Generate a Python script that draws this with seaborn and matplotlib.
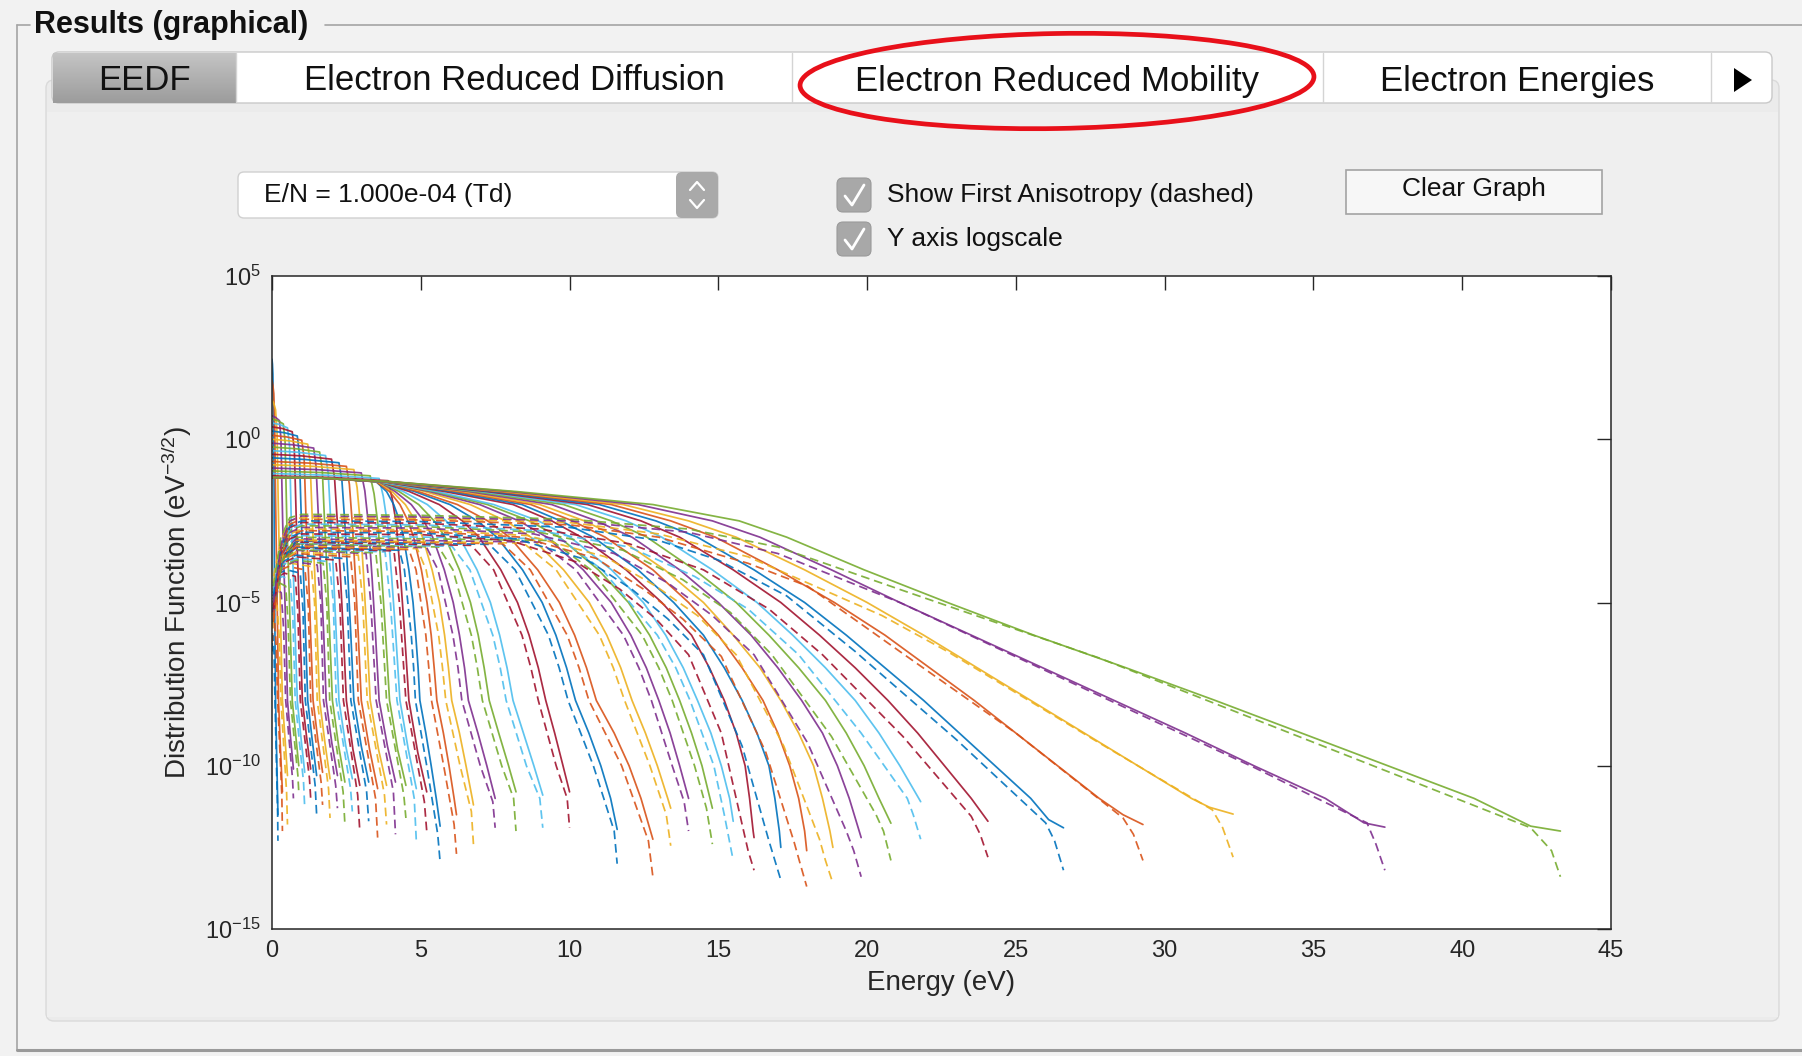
import numpy as np
import pandas as pd
import matplotlib
matplotlib.use("Agg")
import matplotlib.pyplot as plt
import seaborn as sns
from matplotlib.patches import FancyBboxPatch, Rectangle, Ellipse
from matplotlib.lines import Line2D
from matplotlib.ticker import FixedLocator, NullLocator, LogFormatterSciNotation

# ---------------- data ----------------
# EEDF curves, from highest E/N (longest tail) to lowest E/N.
# energies (eV) and log10 of the distribution function at read points
sol_E = [
 [0,1.5,4.0,8.2,12.8,15.7,17.3,19.9,22.7,25.6,28.7,31.7,34.6,37.5,40.4,42.3,43.3],
 [0,1.5,3.98,8.0,12.3,14.8,16.4,18.8,21.1,23.5,25.9,28.3,30.7,33.0,35.4,36.7,37.4],
 [0,1.5,3.96,7.8,11.8,14.0,15.6,17.9,20.0,21.9,23.7,25.5,27.3,29.1,30.9,31.5,32.3],
 [0,1.5,3.94,7.6,11.4,13.4,14.9,17.0,18.9,20.6,22.1,23.6,25.0,26.4,27.8,28.6,29.27],
 [0,1.5,3.92,7.4,11.0,12.9,14.3,16.2,17.9,19.3,20.6,21.9,23.1,24.3,25.5,26.1,26.6],
 [0,1.5,3.9,7.2,10.6,12.4,13.7,15.5,17.1,18.4,19.6,20.7,21.7,22.6,23.5,24.06],
 [0,1.5,3.88,7.0,10.2,11.9,13.1,14.8,16.3,17.5,18.6,19.6,20.4,21.1,21.8],
 [0,1.5,3.86,6.8,9.8,11.4,12.6,14.2,15.6,16.7,17.7,18.6,19.3,19.9,20.4,20.8],
 [0,1.5,3.84,6.6,9.4,10.9,12.1,13.7,15.0,16.1,17.0,17.8,18.5,19.0,19.4,19.8],
 [0,1.5,3.82,6.4,9.0,10.5,11.6,13.2,14.5,15.5,16.4,17.1,17.7,18.2,18.5,18.75,18.85],
 [0,1.5,3.8,6.2,8.7,10.1,11.2,12.8,14.0,15.0,15.8,16.5,17.0,17.4,17.7,17.9,17.97],
 [0,1.5,3.8,6.0,8.4,9.7,10.8,12.3,13.5,14.5,15.2,15.8,16.3,16.7,16.9,17.05,17.1],
 [0,1.5,3.75,5.8,8.1,9.4,10.4,11.9,13.1,14.1,14.7,15.2,15.6,15.9,16.05,16.17,16.2],
 [0,1.5,3.6,5.53,7.45,8.95,10.02,11.41,12.48,13.23,13.82,14.3,14.75,15.1,15.38,15.5],
 [0,1.5,3.6,5.42,7.24,8.65,9.66,10.97,11.98,12.69,13.25,13.7,14.1,14.45,14.72,14.8],
 [0,1.5,3.6,5.29,6.98,8.3,9.24,10.46,11.4,12.06,12.58,13.0,13.38,13.7,14.0],
 [0,1.5,3.6,5.13,6.66,7.85,8.7,9.8,10.66,11.25,11.72,12.1,12.55,12.95,13.3,13.4],
 [0,1.5,3.6,4.91,6.23,7.25,7.98,8.93,9.66,10.17,10.57,10.9,11.5,12.0,12.4,12.72,12.8],
 [0,1.5,3.6,4.79,5.98,6.9,7.56,8.42,9.08,9.54,9.9,10.2,10.65,11.05,11.38,11.6],
 [0,1.5,3.6,4.61,5.62,6.4,6.96,7.69,8.25,8.64,8.95,9.2,9.5,9.78,10.0],
 [0,1.5,3.6,4.41,5.22,5.85,6.3,6.89,7.34,7.65,7.9,8.1,8.45,8.8,9.1],
 [0,1.5,3.6,4.27,4.93,5.45,5.82,6.3,6.67,6.93,7.13,7.3,7.62,7.95,8.2],
 [0,1.5,3.6,4.14,4.68,5.1,5.4,5.79,6.09,6.3,6.47,6.6,6.92,7.22,7.5],
 [0,1.5,3.55,4.04,4.48,4.82,5.06,5.38,5.63,5.8,5.93,6.04,6.3,6.52,6.73,6.77],
 [0,1.5,3.5,3.95,4.3,4.57,4.76,5.02,5.21,5.35,5.45,5.54,5.76,5.95,6.12,6.2],
 [0,1.5,3.5,3.85,4.09,4.29,4.42,4.6,4.74,4.83,4.91,4.97,5.17,5.35,5.52,5.65],
 [0,1.95,3.9,4.04,4.18,4.32,4.46,4.6,4.9,5.2],
 [0,1.8,3.6,3.74,3.88,4.02,4.16,4.3,4.58,4.85],
 [0,1.65,3.3,3.43,3.56,3.69,3.82,3.95,4.22,4.5],
 [0,1.5,3.0,3.12,3.24,3.36,3.48,3.6,3.88,4.15],
 [0,1.38,2.75,2.86,2.97,3.08,3.19,3.3,3.58,3.85],
 [0,1.25,2.5,2.6,2.7,2.8,2.9,3.0,3.28,3.55],
 [0,1.12,2.25,2.35,2.45,2.55,2.65,2.75,3.0,3.25],
 [0,1.0,2.0,2.1,2.2,2.3,2.4,2.5,2.72,2.95],
 [0,0.9,1.8,1.89,1.98,2.07,2.16,2.25,2.48,2.7],
 [0,0.8,1.6,1.69,1.77,1.86,1.94,2.03,2.24,2.45],
 [0,0.7,1.4,1.48,1.57,1.65,1.74,1.82,2.01,2.2],
 [0,0.6,1.2,1.28,1.36,1.44,1.52,1.6,1.78,1.95],
 [0,0.5,1.0,1.08,1.15,1.23,1.3,1.38,1.54,1.7],
 [0,0.42,0.85,0.92,0.99,1.06,1.13,1.2,1.35,1.5],
 [0,0.34,0.68,0.75,0.82,0.88,0.95,1.02,1.16,1.3],
 [0,0.26,0.52,0.59,0.65,0.72,0.78,0.85,0.98,1.1],
 [0,0.19,0.38,0.44,0.5,0.56,0.62,0.68,0.79,0.9],
 [0,0.12,0.25,0.3,0.36,0.41,0.47,0.52,0.62,0.72],
 [0,0.06,0.12,0.17,0.21,0.26,0.3,0.35,0.44,0.52],
 [0,0.03,0.06,0.09,0.12,0.16,0.19,0.22,0.28,0.35],
 [0,0.015,0.03,0.05,0.07,0.08,0.1,0.12,0.16,0.2],
]
sol_L = [
 [-1.17,-1.18,-1.3,-1.6,-2,-2.5,-3,-4,-5,-6,-7,-8,-9,-10,-11,-11.85,-12.0],
 [-1.17,-1.18,-1.3,-1.6,-2,-2.5,-3,-4,-5,-6,-7,-8,-9,-10,-11,-11.75,-11.88],
 [-1.17,-1.18,-1.3,-1.6,-2,-2.5,-3,-4,-5,-6,-7,-8,-9,-10,-11,-11.27,-11.48],
 [-1.17,-1.18,-1.3,-1.6,-2,-2.5,-3,-4,-5,-6,-7,-8,-9,-10,-11,-11.5,-11.8],
 [-1.17,-1.18,-1.3,-1.6,-2,-2.5,-3,-4,-5,-6,-7,-8,-9,-10,-11,-11.65,-11.9],
 [-1.17,-1.18,-1.3,-1.6,-2,-2.5,-3,-4,-5,-6,-7,-8,-9,-10,-11,-11.7],
 [-1.17,-1.18,-1.3,-1.6,-2,-2.5,-3,-4,-5,-6,-7,-8,-9,-10,-11.1],
 [-1.17,-1.18,-1.3,-1.6,-2,-2.5,-3,-4,-5,-6,-7,-8,-9,-10,-11,-11.76],
 [-1.17,-1.18,-1.3,-1.6,-2,-2.5,-3,-4,-5,-6,-7,-8,-9,-10,-11,-12.2],
 [-1.17,-1.18,-1.3,-1.6,-2,-2.5,-3,-4,-5,-6,-7,-8,-9,-10,-11,-12,-12.5],
 [-1.17,-1.18,-1.3,-1.6,-2,-2.5,-3,-4,-5,-6,-7,-8,-9,-10,-11,-12,-12.6],
 [-1.17,-1.18,-1.3,-1.6,-2,-2.5,-3,-4,-5,-6,-7,-8,-9,-10,-11,-12,-12.5],
 [-1.17,-1.18,-1.3,-1.6,-2,-2.5,-3,-4,-5,-6,-7,-8,-9,-10,-11,-12,-12.2],
 [-1.17,-1.18,-1.3,-1.6,-2,-2.5,-3,-4,-5,-6,-7,-8,-9,-10,-11,-11.7],
 [-1.17,-1.18,-1.3,-1.6,-2,-2.5,-3,-4,-5,-6,-7,-8,-9,-10,-11,-11.3],
 [-1.17,-1.18,-1.3,-1.6,-2,-2.5,-3,-4,-5,-6,-7,-8,-9,-10,-11.0],
 [-1.17,-1.18,-1.3,-1.6,-2,-2.5,-3,-4,-5,-6,-7,-8,-9,-10,-11,-11.3],
 [-1.17,-1.18,-1.3,-1.6,-2,-2.5,-3,-4,-5,-6,-7,-8,-9,-10,-11,-12,-12.25],
 [-1.17,-1.18,-1.3,-1.6,-2,-2.5,-3,-4,-5,-6,-7,-8,-9,-10,-11,-11.95],
 [-1.17,-1.18,-1.3,-1.6,-2,-2.5,-3,-4,-5,-6,-7,-8,-9,-10,-10.8],
 [-1.17,-1.18,-1.3,-1.6,-2,-2.5,-3,-4,-5,-6,-7,-8,-9,-10,-10.9],
 [-1.17,-1.18,-1.3,-1.6,-2,-2.5,-3,-4,-5,-6,-7,-8,-9,-10,-10.8],
 [-1.17,-1.18,-1.3,-1.6,-2,-2.5,-3,-4,-5,-6,-7,-8,-9,-10,-11.0],
 [-1.17,-1.18,-1.3,-1.6,-2,-2.5,-3,-4,-5,-6,-7,-8,-9,-10,-11,-11.2],
 [-1.17,-1.18,-1.3,-1.6,-2,-2.5,-3,-4,-5,-6,-7,-8,-9,-10,-11,-11.5],
 [-1.17,-1.18,-1.3,-1.6,-2,-2.5,-3,-4,-5,-6,-7,-8,-9,-10,-11,-11.85],
 [-1.12,-1.17,-1.27,-1.82,-2.6,-4.2,-6.0,-8,-9.6,-10.8],
 [-1.05,-1.1,-1.2,-1.75,-2.6,-4.2,-6.0,-8,-9.5,-10.7],
 [-0.97,-1.02,-1.12,-1.67,-2.6,-4.2,-6.0,-8,-9.5,-10.6],
 [-0.88,-0.93,-1.03,-1.58,-2.6,-4.2,-6.0,-8,-9.4,-10.5],
 [-0.78,-0.83,-0.93,-1.48,-2.6,-4.2,-6.0,-8,-9.5,-10.6],
 [-0.68,-0.73,-0.83,-1.38,-2.6,-4.2,-6.0,-8,-9.5,-10.7],
 [-0.57,-0.62,-0.72,-1.27,-2.6,-4.2,-6.0,-8,-9.4,-10.5],
 [-0.46,-0.51,-0.61,-1.16,-2.6,-4.2,-6.0,-8,-9.5,-10.6],
 [-0.35,-0.4,-0.5,-1.05,-2.6,-4.2,-6.0,-8,-9.4,-10.4],
 [-0.24,-0.29,-0.39,-0.94,-2.6,-4.2,-6.0,-8,-9.4,-10.5],
 [-0.12,-0.17,-0.27,-0.82,-2.6,-4.2,-6.0,-8,-9.3,-10.3],
 [0.0,-0.05,-0.15,-0.7,-2.6,-4.2,-6.0,-8,-9.3,-10.4],
 [0.12,0.07,-0.03,-0.58,-2.6,-4.2,-6.0,-8,-9.2,-10.2],
 [0.25,0.2,0.1,-0.45,-2.6,-4.2,-6.0,-8,-9.2,-10.3],
 [0.38,0.33,0.23,-0.32,-2.6,-4.2,-6.0,-8,-9.1,-10.1],
 [0.5,0.45,0.35,-0.2,-2.6,-4.2,-6.0,-8,-9.2,-10.2],
 [0.62,0.57,0.47,-0.08,-2.6,-4.2,-6.0,-8,-9.0,-10.0],
 [0.72,0.67,0.57,0.02,-2.6,-4.2,-6.0,-8,-9.1,-10.1],
 [1.2,1.1,0.9,0.2,-2.0,-4.2,-6.0,-8,-9.2,-10.3],
 [1.8,1.65,1.4,0.5,-1.8,-4.2,-6.0,-8,-9.4,-10.8],
 [2.45,2.3,2.0,0.8,-1.5,-4.2,-6.0,-8,-9.8,-11.5],
]
dash_E = [
 [0.05,0.3,0.6,1,5,10,14,17,21.1,27.8,42.3,43.0,43.3],
 [0.05,0.3,0.6,1,5,10,14,17,21.1,24.5,27.8,33,36.8,37.1,37.4],
 [0.05,0.3,0.6,1,5,10,13,16,20.5,22.7,27.8,31.6,31.95,32.3],
 [0.05,0.3,0.6,1,5,10,13,16,18,21.1,25,28.6,28.95,29.27],
 [0.05,0.3,0.6,1,5,10,13,15,17.3,19.6,23,26.0,26.3,26.6],
 [0.05,0.3,0.6,1,5,9,12,14.5,16.7,18.5,21.2,23.5,23.8,24.06],
 [0.05,0.3,0.6,1,5,9,12,14.2,16.0,17.7,19.8,21.35,21.55,21.8],
 [0.05,0.3,0.6,1,5,9,11.8,13.8,15.4,16.8,18.8,20.3,20.55,20.8],
 [0.05,0.3,0.6,1,5,8.8,11.5,13.3,14.8,16.2,18.0,19.3,19.55,19.8],
 [0.05,0.3,0.6,1,5,8.6,11.2,12.9,14.3,15.6,17.2,18.4,18.6,18.85],
 [0.05,0.3,0.6,1,5,8.4,10.9,12.5,13.8,15.1,16.6,17.55,17.75,17.97],
 [0.05,0.3,0.6,1,5,8.2,10.6,12.1,13.3,14.5,15.8,16.7,16.9,17.1],
 [0.05,0.3,0.6,1,5,8.0,10.2,11.7,12.9,14.0,15.1,15.85,16.0,16.2],
 [0.05,0.35,0.8,9.7,11.1,12.95,13.57,14.05,14.85,15.2,15.5],
 [0.05,0.35,0.8,9.4,10.72,12.44,13.0,13.45,14.2,14.6,14.8],
 [0.05,0.35,0.8,9.0,10.21,11.81,12.33,12.75,13.45,13.85,14.0],
 [0.05,0.35,0.8,8.45,9.55,11.0,11.47,11.85,12.7,13.25,13.4],
 [0.05,0.35,0.8,7.75,8.68,9.92,10.32,10.65,11.75,12.65,12.8],
 [0.05,0.35,0.8,7.3,8.17,9.29,9.65,9.95,10.8,11.5,11.6],
 [0.05,0.35,0.8,6.7,7.45,8.4,8.7,8.95,9.55,9.92,10.0],
 [0.05,0.35,0.8,6.05,6.65,7.42,7.67,7.87,8.55,9.0,9.1],
 [0.05,0.35,0.8,5.6,6.08,6.7,6.9,7.07,7.72,8.12,8.2],
 [0.05,0.35,0.8,5.2,5.58,6.08,6.25,6.38,7.0,7.42,7.5],
 [0.05,0.35,0.8,4.88,5.18,5.6,5.73,5.84,6.32,6.7,6.77],
 [0.05,0.35,0.8,4.6,4.84,5.17,5.27,5.36,5.77,6.12,6.2],
 [0.05,0.35,0.8,4.28,4.45,4.68,4.76,4.82,5.2,5.57,5.65],
 [0.05,0.35,0.8,4.1,4.28,4.5,5.12,5.2],
 [0.05,0.35,0.8,3.8,3.98,4.2,4.78,4.85],
 [0.05,0.35,0.8,3.49,3.66,3.85,4.43,4.5],
 [0.05,0.35,0.8,3.16,3.32,3.5,4.08,4.15],
 [0.05,0.35,0.8,2.9,3.05,3.2,3.78,3.85],
 [0.05,0.35,0.8,2.64,2.78,2.9,3.48,3.55],
 [0.05,0.35,0.8,2.39,2.53,2.65,3.18,3.25],
 [0.05,0.35,0.8,2.14,2.28,2.4,2.88,2.95],
 [0.05,0.35,0.8,1.93,2.06,2.16,2.64,2.7],
 [0.05,0.35,0.8,1.72,1.84,1.94,2.39,2.45],
 [0.05,0.35,0.75,1.52,1.64,1.73,2.14,2.2],
 [0.05,0.3,0.65,1.32,1.43,1.52,1.9,1.95],
 [0.05,0.28,0.55,1.11,1.22,1.3,1.65,1.7],
 [0.05,0.25,0.5,0.95,1.04,1.12,1.45,1.5],
 [0.05,0.22,0.42,0.78,0.87,0.95,1.26,1.3],
 [0.04,0.18,0.34,0.61,0.7,0.78,1.06,1.1],
 [0.03,0.13,0.25,0.46,0.54,0.62,0.87,0.9],
 [0.03,0.09,0.17,0.31,0.39,0.46,0.69,0.72],
 [0.02,0.05,0.09,0.17,0.24,0.3,0.49,0.52],
 [0.01,0.03,0.05,0.09,0.14,0.19,0.33,0.35],
 [0.005,0.012,0.02,0.04,0.07,0.1,0.19,0.2],
]
dash_L = [
 [-4.5,-3.0,-2.4,-2.3,-2.33,-2.45,-2.75,-3.3,-4.6,-6.7,-11.9,-12.6,-13.4],
 [-5.0,-3.2,-2.5,-2.35,-2.38,-2.5,-2.85,-3.5,-5.0,-6.45,-7.85,-10.05,-11.75,-12.4,-13.2],
 [-4.2,-3.1,-2.5,-2.4,-2.42,-2.55,-2.9,-3.6,-5.4,-6.5,-9.3,-11.35,-11.9,-12.8],
 [-5.5,-3.3,-2.6,-2.45,-2.47,-2.62,-3.0,-3.8,-4.5,-6.5,-9.0,-11.6,-12.1,-12.9],
 [-4.8,-3.3,-2.65,-2.5,-2.52,-2.7,-3.1,-3.7,-4.8,-6.5,-9.2,-11.75,-12.3,-13.2],
 [-5.2,-3.4,-2.7,-2.55,-2.57,-2.75,-3.2,-4.0,-5.2,-6.6,-9.1,-11.55,-12.1,-12.8],
 [-4.6,-3.3,-2.75,-2.6,-2.62,-2.8,-3.3,-4.2,-5.2,-6.6,-9.0,-11.0,-11.5,-12.25],
 [-5.0,-3.5,-2.8,-2.65,-2.67,-2.85,-3.4,-4.3,-5.3,-6.6,-9.1,-11.5,-12.0,-12.9],
 [-5.3,-3.5,-2.85,-2.7,-2.72,-2.9,-3.5,-4.4,-5.4,-6.6,-9.3,-12.0,-12.6,-13.4],
 [-4.4,-3.4,-2.9,-2.75,-2.77,-2.95,-3.6,-4.5,-5.4,-6.6,-9.4,-12.25,-12.9,-13.6],
 [-5.6,-3.6,-2.95,-2.8,-2.82,-3.0,-3.65,-4.6,-5.5,-6.65,-9.6,-12.35,-13.0,-13.7],
 [-4.9,-3.5,-3.0,-2.85,-2.87,-3.05,-3.7,-4.6,-5.5,-6.6,-9.4,-12.3,-12.9,-13.5],
 [-5.1,-3.6,-3.05,-2.9,-2.92,-3.1,-3.75,-4.6,-5.5,-6.6,-9.0,-12.0,-12.6,-13.2],
 [-4.7,-3.5,-2.95,-3.05,-4,-6,-7,-8,-10,-11.5,-12.9],
 [-5.4,-3.7,-3.0,-3.1,-4,-6,-7,-8,-10,-11.3,-12.4],
 [-4.7,-3.5,-3.05,-3.15,-4,-6,-7,-8,-10,-11.1,-12.0],
 [-5.0,-3.6,-3.08,-3.18,-4,-6,-7,-8,-10,-11.5,-12.45],
 [-4.6,-3.55,-3.1,-3.2,-4,-6,-7,-8,-10,-12.3,-13.4],
 [-5.2,-3.7,-3.12,-3.22,-4,-6,-7,-8,-10,-12.0,-13.0],
 [-4.9,-3.6,-3.15,-3.25,-4,-6,-7,-8,-10,-11.0,-11.9],
 [-4.5,-3.55,-3.18,-3.28,-4,-6,-7,-8,-10,-11.0,-11.9],
 [-5.1,-3.65,-3.2,-3.3,-4,-6,-7,-8,-10,-11.0,-12.0],
 [-4.8,-3.6,-3.22,-3.32,-4,-6,-7,-8,-10,-11.1,-11.9],
 [-4.4,-3.55,-3.25,-3.35,-4,-6,-7,-8,-10,-11.4,-12.4],
 [-5.3,-3.7,-3.28,-3.38,-4,-6,-7,-8,-10,-11.8,-12.7],
 [-4.7,-3.6,-3.3,-3.4,-4,-6,-7,-8,-10,-12.1,-12.95],
 [-5.0,-3.65,-3.32,-3.42,-5.0,-8,-11.1,-12.0],
 [-4.6,-3.6,-3.35,-3.45,-5.0,-8,-11.0,-12.3],
 [-5.2,-3.7,-3.38,-3.48,-5.0,-8,-10.9,-11.6],
 [-4.8,-3.65,-3.4,-3.5,-5.0,-8,-10.8,-12.1],
 [-5.1,-3.7,-3.45,-3.55,-5.0,-8,-10.9,-11.8],
 [-4.7,-3.7,-3.5,-3.6,-5.0,-8,-11.0,-12.2],
 [-5.0,-3.75,-3.55,-3.65,-5.0,-8,-10.8,-11.7],
 [-4.9,-3.8,-3.6,-3.7,-5.0,-8,-10.9,-12.0],
 [-5.2,-3.85,-3.65,-3.75,-5.0,-8,-10.7,-11.4],
 [-4.8,-3.85,-3.7,-3.8,-5.0,-8,-10.8,-11.8],
 [-5.3,-3.9,-3.75,-3.85,-5.0,-8,-10.6,-11.3],
 [-4.9,-3.95,-3.8,-3.9,-5.0,-8,-10.7,-11.6],
 [-5.2,-4.0,-3.9,-4.0,-5.1,-8,-10.5,-11.2],
 [-5.0,-4.1,-4.0,-4.1,-5.2,-8,-10.6,-11.5],
 [-5.4,-4.2,-4.1,-4.2,-5.3,-8,-10.4,-11.0],
 [-5.1,-4.3,-4.2,-4.3,-5.4,-8,-10.5,-11.3],
 [-5.6,-4.5,-4.4,-4.5,-5.6,-8,-10.3,-10.8],
 [-5.3,-4.7,-4.6,-4.7,-5.8,-8,-10.4,-11.0],
 [-5.8,-5.1,-5.0,-5.1,-6.0,-8,-10.8,-11.8],
 [-6.2,-5.6,-5.5,-5.6,-6.3,-8,-10.9,-12.0],
 [-6.5,-6.1,-6.0,-6.1,-6.6,-8,-11.5,-12.3],
]
matlab_colors = ["#0072BD", "#D95319", "#EDB120", "#7E2F8E", "#77AC30", "#4DBEEE", "#A2142F"]
x_ticks = [0, 5, 10, 15, 20, 25, 30, 35, 40, 45]
y_ticks = [1e-15, 1e-10, 1e-5, 1e0, 1e5]

# ---------------- long table (plot order: lowest E/N first) ----------------
n = len(sol_E)
rows = []
for k in range(n):
    order = n - 1 - k
    for e, l in zip(sol_E[k], sol_L[k]):
        rows.append((order, "solid", e, 10.0 ** l))
    for e, l in zip(dash_E[k], dash_L[k]):
        rows.append((order, "dash", e, 10.0 ** l))
df = pd.DataFrame(rows, columns=["curve", "kind", "E", "f"])
palette = {i: matlab_colors[i % 7] for i in range(n)}

# ---------------- figure ----------------
W, H = 1802, 1056
sns.set_theme(style="white")
plt.rcParams["font.family"] = ["Liberation Sans", "DejaVu Sans"]
plt.rcParams["mathtext.fontset"] = "custom"
plt.rcParams["mathtext.rm"] = "Liberation Sans"
plt.rcParams["mathtext.it"] = "Liberation Sans:italic"

fig = plt.figure(figsize=(W / 100, H / 100), dpi=100)
fig.patch.set_facecolor("#f2f2f2")

bg = fig.add_axes([0, 0, 1, 1])
bg.set_xlim(0, W)
bg.set_ylim(H, 0)
bg.axis("off")

gc = "#a5a5a5"
bg.add_line(Line2D([17, 17], [25, 1050], color=gc, lw=1.2))
bg.add_line(Line2D([17, 30], [25, 25], color=gc, lw=1.2))
bg.add_line(Line2D([325, W], [25, 25], color=gc, lw=1.2))
bg.add_line(Line2D([17, W], [1050, 1050], color="#9a9a9a", lw=2.2))
bg.text(34, 25, "Results (graphical)", fontsize=22, fontweight="bold", va="center", ha="left", color="#111111")

bg.add_patch(FancyBboxPatch((46, 80), 1733, 941, boxstyle="round,pad=0,rounding_size=8",
                            fc="#ebebeb", ec="#dadada", lw=1.0))
bg.add_patch(Rectangle((47, 112), 1731, 905, fc="#efefef", ec="none"))

bg.add_patch(FancyBboxPatch((52, 52), 1720, 51, boxstyle="round,pad=0,rounding_size=7",
                            fc="white", ec="#c9c9c9", lw=1.0))
grad = np.linspace(0, 1, 50)[:, None]
bg.imshow(grad, extent=(53, 236, 103, 53), cmap=matplotlib.colors.LinearSegmentedColormap.from_list(
    "g", ["#c4c4c4", "#9c9c9c"]), aspect="auto", zorder=2)
for xs in (236, 792, 1323, 1711):
    bg.add_line(Line2D([xs, xs], [53, 102], color="#d4d4d4", lw=1.0, zorder=3))
tab_fs = 25
ty = 81
bg.text(144, ty, "EEDF", fontsize=tab_fs, ha="center", va="center", color="#111111", zorder=4)
bg.text(514, ty, "Electron Reduced Diffusion", fontsize=tab_fs, ha="center", va="center", color="#111111", zorder=4)
bg.text(1057, ty, "Electron Reduced Mobility", fontsize=tab_fs, ha="center", va="center", color="#111111", zorder=4)
bg.text(1517, ty, "Electron Energies", fontsize=tab_fs, ha="center", va="center", color="#111111", zorder=4)
bg.add_patch(plt.Polygon([[1734, 68], [1734, 92], [1752, 80]], closed=True, fc="black", ec="none", zorder=4))
bg.add_patch(Ellipse((1057, 81), 514, 95, angle=-1, fill=False, ec="#e8101a", lw=3.4, zorder=5))

bg.add_patch(FancyBboxPatch((238, 172), 480, 46, boxstyle="round,pad=0,rounding_size=6",
                            fc="white", ec="#d0d0d0", lw=1.0, zorder=2))
bg.add_patch(FancyBboxPatch((676, 172), 42, 46, boxstyle="round,pad=0,rounding_size=6",
                            fc="#a9a9a9", ec="none", zorder=3))
bg.add_line(Line2D([690, 697, 704], [190, 182, 190], color="white", lw=1.6, zorder=4))
bg.add_line(Line2D([690, 697, 704], [200, 208, 200], color="white", lw=1.6, zorder=4))
bg.text(264, 195, "E/N = 1.000e-04 (Td)", fontsize=19, ha="left", va="center", color="#111111", zorder=4)

for cy in (195, 239):
    bg.add_patch(FancyBboxPatch((837, cy - 17), 34, 34, boxstyle="round,pad=0,rounding_size=6",
                                fc="#a8a8a8", ec="#9a9a9a", lw=0.8, zorder=3))
    bg.add_line(Line2D([845, 852, 864], [cy + 1, cy + 10, cy - 10], color="white", lw=2.0, zorder=4))
bg.text(887, 195, "Show First Anisotropy (dashed)", fontsize=19, ha="left", va="center", color="#111111")
bg.text(887, 239, "Y axis logscale", fontsize=19, ha="left", va="center", color="#111111")

bg.add_patch(Rectangle((1346, 170), 256, 44, fc="#f7f7f7", ec="#a3a3a3", lw=1.2, zorder=2))
bg.text(1474, 189, "Clear Graph", fontsize=19, ha="center", va="center", color="#111111", zorder=3)

# ---------------- plot axes ----------------
L, R, T, B = 272, 1611, 276, 929
ax = fig.add_axes([L / W, 1 - B / H, (R - L) / W, (B - T) / H])
ax.set_zorder(3)
ax.set_facecolor("white")
sns.lineplot(data=df, x="E", y="f", hue="curve", style="kind", palette=palette,
             hue_order=list(range(n)), style_order=["solid", "dash"],
             dashes={"solid": "", "dash": (5.0, 2.8)}, estimator=None, sort=False,
             legend=False, lw=1.25, alpha=0.9, ax=ax)
ax.set_yscale("log")
ax.set_xlim(0, 45)
ax.set_ylim(1e-15, 1e5)
ax.xaxis.set_major_locator(FixedLocator(x_ticks))
ax.yaxis.set_major_locator(FixedLocator(y_ticks))
ax.yaxis.set_minor_locator(NullLocator())
ax.yaxis.set_major_formatter(LogFormatterSciNotation())
ax.tick_params(axis="both", which="major", direction="in", length=10, width=1.0,
               color="#262626", labelsize=17, labelcolor="#262626", top=True, right=True, pad=8)
for s in ax.spines.values():
    s.set_color("#262626")
    s.set_linewidth(1.1)
ax.set_xlabel("Energy (eV)", fontsize=20, color="#262626", labelpad=6)
ax.set_ylabel("Distribution Function (eV$^{-3/2}$)", fontsize=20, color="#262626", labelpad=8)

fig.savefig("out.png", dpi=100, facecolor=fig.get_facecolor())
